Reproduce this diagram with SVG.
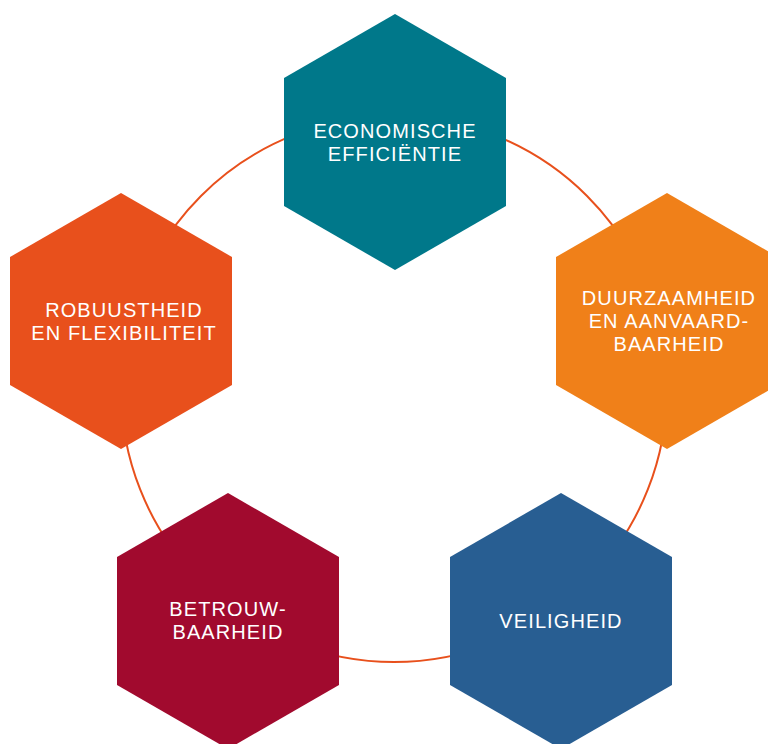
<svg xmlns="http://www.w3.org/2000/svg" width="768" height="744" viewBox="0 0 768 744">
<style>
.lbl{font-family:"Liberation Sans",Arial,sans-serif;font-size:20px;fill:#fff;text-anchor:middle;letter-spacing:1.1px}
</style>
<defs>
<polygon id="hx" points="0,-128 111,-64 111,64 0,128 -111,64 -111,-64"/>
</defs>
<rect width="768" height="744" fill="#fff"/>
<g id="connectors">
<circle cx="394" cy="389" r="273" fill="none" stroke="#e8501c" stroke-width="2"/>
</g>
<g id="economische">
<use href="#hx" x="395" y="142" fill="#00788a"/>
<text class="lbl" x="395" y="138">ECONOMISCHE</text>
<text class="lbl" x="395" y="161">EFFICIËNTIE</text>
</g>
<g id="duurzaamheid">
<use href="#hx" x="667" y="321" fill="#f08019"/>
<text class="lbl" x="669" y="305">DUURZAAMHEID</text>
<text class="lbl" x="669" y="328">EN AANVAARD-</text>
<text class="lbl" x="669" y="351">BAARHEID</text>
</g>
<g id="veiligheid">
<use href="#hx" x="561" y="621" fill="#285e92"/>
<text class="lbl" x="561" y="628">VEILIGHEID</text>
</g>
<g id="betrouwbaarheid">
<use href="#hx" x="228" y="621" fill="#a10a2e"/>
<text class="lbl" x="228" y="616">BETROUW-</text>
<text class="lbl" x="228" y="639">BAARHEID</text>
</g>
<g id="robuustheid">
<use href="#hx" x="121" y="321" fill="#e8501c"/>
<text class="lbl" x="124" y="317">ROBUUSTHEID</text>
<text class="lbl" x="124" y="340">EN FLEXIBILITEIT</text>
</g>
</svg>
